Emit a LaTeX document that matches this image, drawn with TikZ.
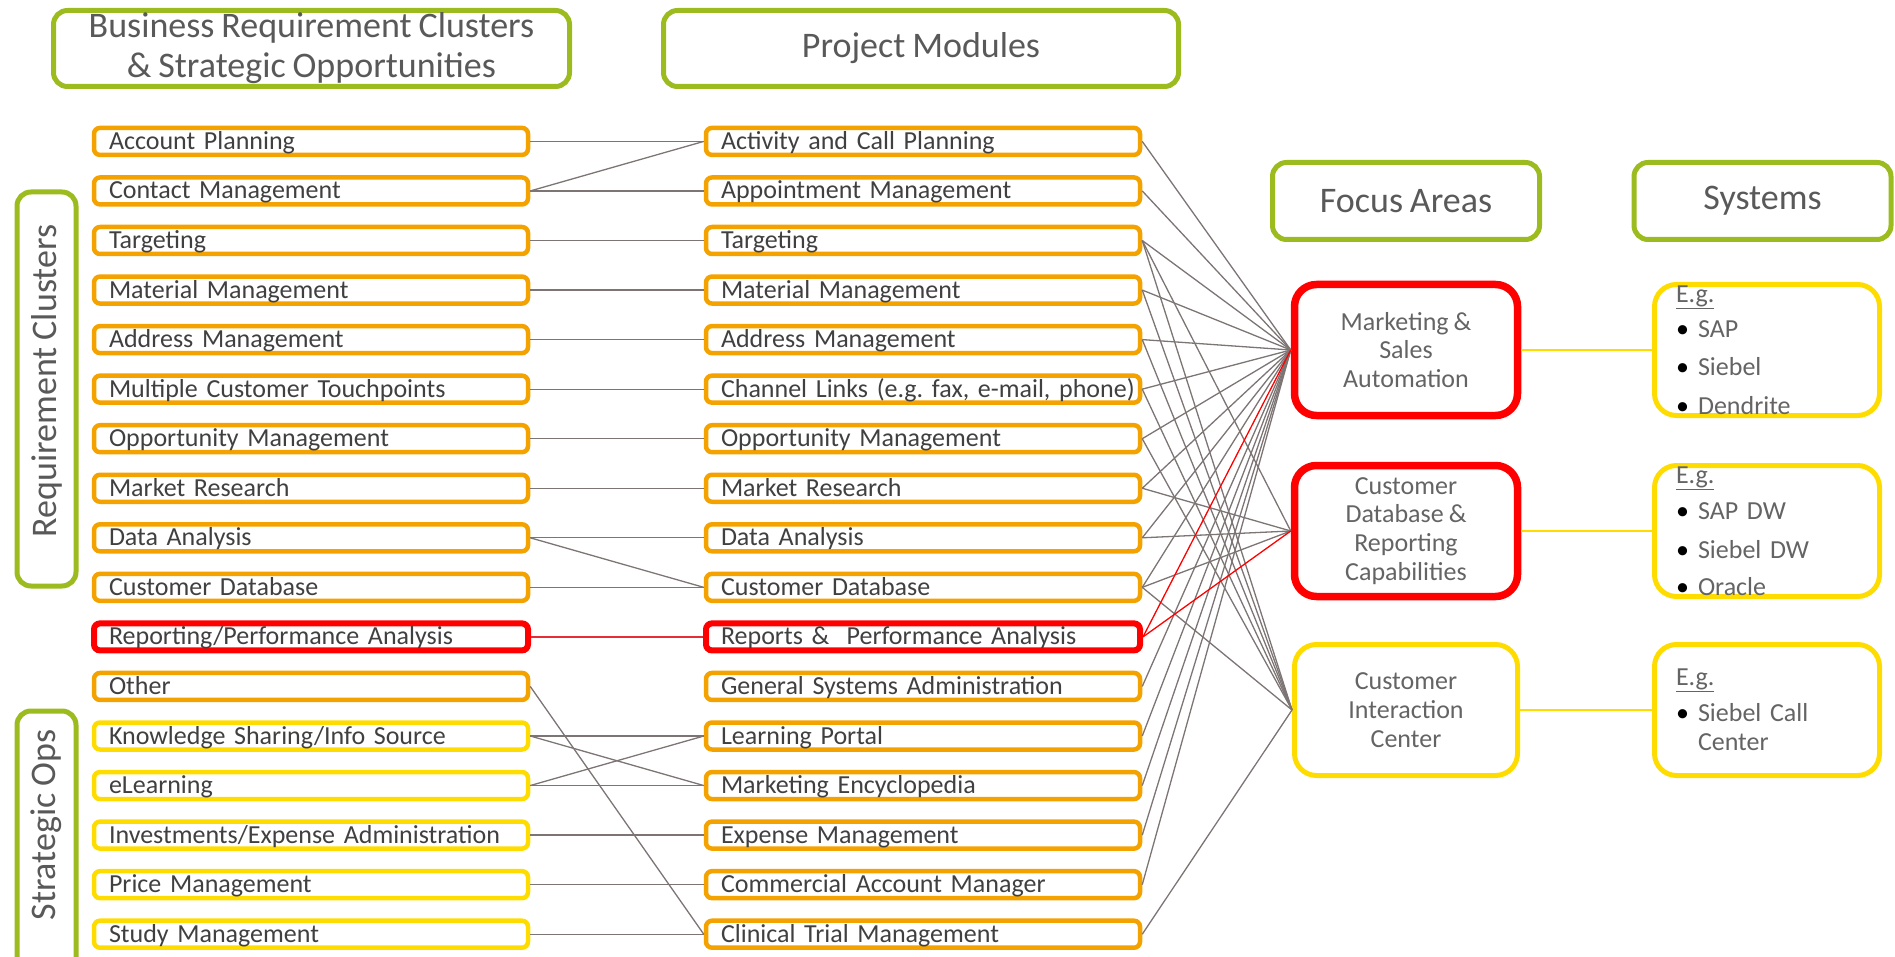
\documentclass[tikz,border=0pt]{standalone}
\usepackage{fontspec}
\setmainfont{Carlito}[WordSpace=0.85]
\usetikzlibrary{positioning}

\definecolor{hdrgreen}{RGB}{155,187,30}
\definecolor{modorange}{RGB}{244,162,0}
\definecolor{optyellow}{RGB}{255,220,0}
\definecolor{hotred}{RGB}{255,0,0}
\definecolor{hotlink}{RGB}{228,45,55}
\definecolor{linkgray}{RGB}{125,116,116}
\definecolor{txtgray}{RGB}{64,64,64}
\definecolor{hdrtext}{RGB}{89,89,89}
\definecolor{softgray}{RGB}{100,100,100}

\newcommand\sysitem[1]{\makebox[22pt][l]{\textcolor{black}{\textbullet}}#1}

\begin{document}
\frenchspacing
\begin{tikzpicture}[x=1pt,y=-1pt,node distance=49.55pt,
  every edge/.append style={draw=linkgray,line width=1.3pt}]
\tikzstyle{every node}=[font=\fontsize{26}{29}\selectfont\frenchspacing,text=txtgray]
\tikzstyle{header}=[draw=hdrgreen,line width=5pt,rounded corners=14pt,font=\fontsize{36}{40}\selectfont,text=hdrtext,align=center,inner sep=0pt]
\tikzstyle{cluster}=[draw=modorange,line width=4.5pt,rounded corners=6pt,minimum width=434pt,minimum height=27pt,text width=404pt,inner xsep=15pt,inner ysep=0pt,text height=20pt,text depth=4pt,align=left]
\tikzstyle{strat}=[cluster,draw=optyellow]
\tikzstyle{hotrow}=[cluster,draw=hotred,line width=6pt]
\tikzstyle{focus}=[draw=optyellow,line width=5pt,rounded corners=22pt,minimum width=223pt,minimum height=131pt,font=\fontsize{26}{28.7}\selectfont,align=center,text=softgray,inner sep=0pt]
\tikzstyle{hotfocus}=[focus,draw=hotred,line width=7.5pt]
\tikzstyle{syslist}=[text width=182pt,align=left,text=softgray]

\useasboundingbox (0,0) rectangle (1895,957);
\clip (0,0) rectangle (1895,957);

\node[header,minimum width=516pt,minimum height=76pt] (hreq) at (311.5,48.5) {Business Requirement Clusters\\\& Strategic Opportunities};
\node[header,minimum width=515pt,minimum height=76pt] (hmod) at (921,48.5) {Project Modules};
\node[header,minimum width=267pt,minimum height=77pt] (hfoc) at (1406,201) {Focus Areas};
\node[header,minimum width=257pt,minimum height=77pt] (hsys) at (1762.5,201) {Systems};

\node[header,rotate=90,minimum width=394pt,minimum height=59pt] (vreq) at (46.5,389) {};
\node[header,rotate=90,draw=none] (vreqname) at (46.5,381) {Requirement Clusters};
\node[header,rotate=90,minimum width=270pt,minimum height=59pt] (vops) at (46.5,846) {};
\node[header,rotate=90,draw=none] (vopsname) at (46.5,825) {Strategic Ops};

\node[cluster] (l1) at (311,141.4) {Account Planning};
\node[cluster] (l2) [below of=l1] {Contact Management};
\node[cluster] (l3) [below of=l2] {Targeting};
\node[cluster] (l4) [below of=l3] {Material Management};
\node[cluster] (l5) [below of=l4] {Address Management};
\node[cluster] (l6) [below of=l5] {Multiple Customer Touchpoints};
\node[cluster] (l7) [below of=l6] {Opportunity Management};
\node[cluster] (l8) [below of=l7] {Market Research};
\node[cluster] (l9) [below of=l8] {Data Analysis};
\node[cluster] (l10) [below of=l9] {Customer Database};
\node[hotrow] (l11) [below of=l10] {Reporting/Performance Analysis};
\node[cluster] (l12) [below of=l11] {Other};
\node[strat] (l13) [below of=l12] {Knowledge Sharing/Info Source};
\node[strat] (l14) [below of=l13] {eLearning};
\node[strat] (l15) [below of=l14] {Investments/Expense Administration};
\node[strat] (l16) [below of=l15] {Price Management};
\node[strat] (l17) [below of=l16] {Study Management};

\node[cluster] (m1) at (923,141.4) {Activity and Call Planning};
\node[cluster] (m2) [below of=m1] {Appointment Management};
\node[cluster] (m3) [below of=m2] {Targeting};
\node[cluster] (m4) [below of=m3] {Material Management};
\node[cluster] (m5) [below of=m4] {Address Management};
\node[cluster] (m6) [below of=m5] {\mbox{Channel Links (e.g. fax, e-mail, phone)}};
\node[cluster] (m7) [below of=m6] {Opportunity Management};
\node[cluster] (m8) [below of=m7] {Market Research};
\node[cluster] (m9) [below of=m8] {Data Analysis};
\node[cluster] (m10) [below of=m9] {Customer Database};
\node[hotrow] (m11) [below of=m10] {Reports \&\ \ Performance Analysis};
\node[cluster] (m12) [below of=m11] {General Systems Administration};
\node[cluster] (m13) [below of=m12] {Learning Portal};
\node[cluster] (m14) [below of=m13] {Marketing Encyclopedia};
\node[cluster] (m15) [below of=m14] {Expense Management};
\node[cluster] (m16) [below of=m15] {Commercial Account Manager};
\node[cluster] (m17) [below of=m16] {Clinical Trial Management};

\node[hotfocus] (msa) at (1406,350) {Marketing \&\\Sales\\Automation};
\node[hotfocus] (cdr) at (1406,531) {Customer\\Database \&\\Reporting\\Capabilities};
\node[focus] (cic) at (1406,710) {Customer\\Interaction\\Center};

\node[focus,minimum width=225pt] (s1) at (1767,350) {};
\node[focus,minimum width=225pt] (s2) at (1767,531) {};
\node[focus,minimum width=225pt] (s3) at (1767,710) {};
\node[syslist] (s1list) at (s1) {\underline{E.g.}\\[6pt]\sysitem{SAP}\\[9pt]\sysitem{Siebel}\\[10pt]\sysitem{Dendrite}};
\node[syslist] (s2list) at (s2) {\underline{E.g.}\\[7pt]\sysitem{SAP DW}\\[10pt]\sysitem{Siebel DW}\\[8pt]\sysitem{Oracle}};
\node[syslist] (s3list) at (s3) {\underline{E.g.}\\[7pt]\sysitem{Siebel Call}\\\hspace*{22pt}Center};

\path
(l1.east) edge (m1.west)
(l2.east) edge (m1.west)
(l2.east) edge (m2.west)
(l3.east) edge (m3.west)
(l4.east) edge (m4.west)
(l5.east) edge (m5.west)
(l6.east) edge (m6.west)
(l7.east) edge (m7.west)
(l8.east) edge (m8.west)
(l9.east) edge (m9.west)
(l9.east) edge (m10.west)
(l10.east) edge (m10.west)
(l11.east) edge[hotlink] (m11.west)
(l12.east) edge (m17.west)
(l13.east) edge (m13.west)
(l13.east) edge (m14.west)
(l14.east) edge (m13.west)
(l14.east) edge (m14.west)
(l15.east) edge (m15.west)
(l16.east) edge (m16.west)
(l17.east) edge (m17.west)
;

\path
(m1.east) edge (msa.west)
(m2.east) edge (msa.west)
(m3.east) edge (msa.west)
(m4.east) edge (msa.west)
(m5.east) edge (msa.west)
(m6.east) edge (msa.west)
(m7.east) edge (msa.west)
(m8.east) edge (msa.west)
(m9.east) edge (msa.west)
(m10.east) edge (msa.west)
(m12.east) edge (msa.west)
(m13.east) edge (msa.west)
(m14.east) edge (msa.west)
(m15.east) edge (msa.west)
(m16.east) edge (msa.west)
(m3.east) edge (cdr.west)
(m8.east) edge (cdr.west)
(m9.east) edge (cdr.west)
(m10.east) edge (cdr.west)
(m3.east) edge (cic.west)
(m4.east) edge (cic.west)
(m5.east) edge (cic.west)
(m6.east) edge (cic.west)
(m7.east) edge (cic.west)
(m10.east) edge (cic.west)
(m17.east) edge (cic.west)
(m11.east) edge[hotred] (msa.west)
(m11.east) edge[hotred] (cdr.west)
;

\path
(msa.east) edge[optyellow] (s1.west)
(cdr.east) edge[optyellow] (s2.west)
(cic.east) edge[optyellow] (s3.west)
;
\end{tikzpicture}
\end{document}
